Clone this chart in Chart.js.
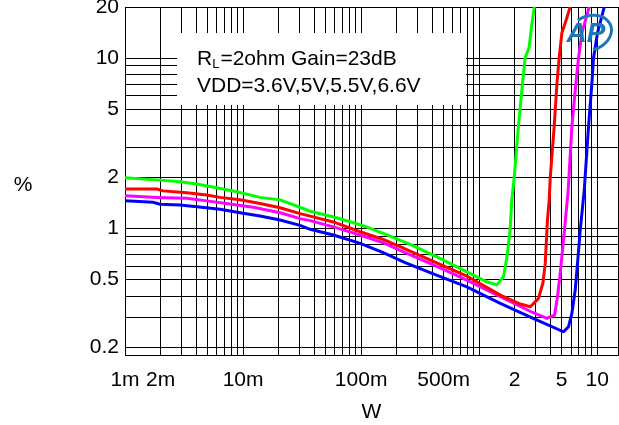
<!DOCTYPE html>
<html>
<head>
<meta charset="utf-8">
<script src="https://cdn.jsdelivr.net/npm/chart.js@4.4.1/dist/chart.umd.min.js"></script>
<style>
  html, body { margin: 0; padding: 0; background: #fff; overflow: hidden; }
  #wrap { position: relative; width: 619px; height: 425px; }
</style>
</head>
<body>
<div id="wrap"><canvas id="thd"></canvas></div>
<script>
// THD+N (%) versus output power (W), RL = 2 ohm, gain 23 dB, one curve per supply voltage
const seriesNames = ['VDD=3.6V', 'VDD=5V', 'VDD=5.5V', 'VDD=6.6V'];
const seriesColors = ['#00ff00', '#ff0000', '#ff00ff', '#0000ff'];

const power36 = [0.001, 0.00198, 0.00292, 0.00405, 0.00599, 0.00885, 0.0139, 0.0206, 0.0304, 0.037,
  0.0579, 0.0982, 0.154, 0.26, 0.438, 0.787, 1.16, 1.41, 1.61, 1.72, 1.83, 1.89, 1.98, 2.15, 2.33,
  2.45, 2.64, 2.72, 2.78, 2.93, 3.0];
const thd36 = [1.98, 1.92, 1.88, 1.82, 1.73, 1.64, 1.52, 1.47, 1.33, 1.26,
  1.17, 1.05, 0.935, 0.805, 0.68, 0.555, 0.485, 0.465, 0.52, 0.68, 0.98, 1.47, 1.98, 3.96, 7.15,
  10.0, 11.5, 13.5, 15.5, 20, 22];

const power50 = [0.001, 0.00186, 0.0021, 0.00334, 0.00492, 0.00638, 0.00944, 0.0139, 0.0206, 0.0304,
  0.037, 0.0582, 0.0982, 0.154, 0.214, 0.26, 0.424, 0.787, 1.51, 2.23, 2.71, 3.18, 3.47, 3.63, 3.75,
  3.79, 3.92, 4.0, 4.32, 4.56, 4.76, 5.02, 5.46, 5.9, 6.0];
const thd50 = [1.70, 1.70, 1.66, 1.62, 1.57, 1.52, 1.47, 1.40, 1.32, 1.22,
  1.18, 1.09, 0.955, 0.862, 0.78, 0.735, 0.633, 0.524, 0.405, 0.359, 0.346, 0.387, 0.477, 0.622, 0.977,
  1.12, 1.47, 1.98, 3.96, 7.15, 10.0, 14.1, 16.8, 20, 21];

const power55 = [0.001, 0.00186, 0.00334, 0.00492, 0.00776, 0.0122, 0.0206, 0.0304, 0.037, 0.0582,
  0.0982, 0.154, 0.236, 0.424, 0.787, 1.51, 2.87, 3.75, 3.87, 4.35, 4.61, 4.86, 5.08, 5.28, 5.68,
  6.1, 6.6, 6.94, 7.42, 8.56, 8.8];
const thd55 = [1.555, 1.52, 1.50, 1.45, 1.39, 1.33, 1.235, 1.14, 1.11, 1.02,
  0.913, 0.823, 0.719, 0.604, 0.496, 0.396, 0.319, 0.2955, 0.2995, 0.309, 0.396, 0.544, 0.745, 0.977, 1.68,
  3.96, 7.15, 10.0, 14.1, 20, 22];

const power66 = [0.001, 0.00173, 0.00198, 0.00292, 0.00405, 0.00638, 0.00944, 0.0139, 0.0206, 0.0304,
  0.037, 0.0582, 0.0982, 0.154, 0.236, 0.424, 0.787, 1.51, 2.87, 5.18, 5.71, 6.1, 6.51, 6.81, 7.18,
  7.78, 8.44, 9.02, 9.3, 10.06, 11.47, 11.8];
const thd66 = [1.453, 1.422, 1.384, 1.371, 1.340, 1.294, 1.235, 1.181, 1.119, 1.041,
  0.987, 0.913, 0.816, 0.719, 0.629, 0.535, 0.453, 0.362, 0.2955, 0.2465, 0.2637, 0.316, 0.434, 0.622, 0.977,
  1.7, 3.96, 7.15, 10.0, 14.1, 20, 22];

// Axis ranges and labelled ticks
const xRange = [0.001, 15];
const yRange = [0.18, 20];
const xTickValues = [0.001, 0.002, 0.01, 0.1, 0.5, 2, 5, 10];
const xTickLabels = ['1m', '2m', '10m', '100m', '500m', '2', '5', '10'];
const yTickValues = [0.2, 0.5, 1, 2, 5, 10, 20];
const yTickLabels = ['0.2', '0.5', '1', '2', '5', '10', '20'];
const xTitle = 'W';
const yTitle = '%';
const noteLines = ['=2ohm Gain=23dB', 'VDD=3.6V,5V,5.5V,6.6V'];
const logoText = 'AP';

const FONT = "'Liberation Sans', Arial, sans-serif";

// 1-2-3...9 grid per decade, plus the range edges
function logGrid(min, max) {
  const vals = [];
  for (let e = Math.floor(Math.log10(min)); e <= Math.ceil(Math.log10(max)); e++) {
    for (let m = 1; m <= 9; m++) {
      const v = +(m * Math.pow(10, e)).toPrecision(6);
      if (v >= min * 0.9999 && v <= max * 1.0001) vals.push(v);
    }
  }
  if (!vals.includes(min)) vals.unshift(min);
  if (!vals.includes(max)) vals.push(max);
  return vals.map(v => ({ value: v }));
}

function labelFor(values, labels, v) {
  const i = values.findIndex(t => Math.abs(t - v) / t < 1e-6);
  return i >= 0 ? labels[i] : '';
}

function pairs(xs, ys) { return xs.map((x, i) => ({ x, y: ys[i] })); }

// Let the plot frame run right up to the canvas edges; labels may overhang
function noOverhang(s) {
  s.paddingLeft = 0; s.paddingRight = 0; s.paddingTop = 0; s.paddingBottom = 0;
}

const seriesData = [pairs(power36, thd36), pairs(power50, thd50), pairs(power55, thd55), pairs(power66, thd66)];

// White note box with the test conditions, the "%" unit and the analyzer badge
const decorations = {
  id: 'decorations',
  beforeDatasetsDraw(chart) {
    const { ctx, chartArea: a } = chart;
    ctx.save();
    ctx.fillStyle = '#ffffff';
    ctx.fillRect(a.left + 52, a.top + 26, 289, 72);
    ctx.fillStyle = '#000';
    ctx.textBaseline = 'alphabetic';
    ctx.textAlign = 'left';
    const x0 = a.left + 72;
    ctx.font = '21px ' + FONT;
    ctx.fillText('R', x0, a.top + 58);
    let x = x0 + ctx.measureText('R').width;
    ctx.font = '13px ' + FONT;
    ctx.fillText('L', x, a.top + 61);
    x += ctx.measureText('L').width + 1;
    ctx.font = '21px ' + FONT;
    ctx.fillText(noteLines[0], x, a.top + 58);
    ctx.fillText(noteLines[1], x0, a.top + 85);
    ctx.restore();
  },
  afterDraw(chart) {
    const { ctx, chartArea: a } = chart;
    ctx.save();
    ctx.fillStyle = '#000';
    ctx.font = '21px ' + FONT;
    ctx.textAlign = 'center';
    ctx.textBaseline = 'middle';
    ctx.fillText(yTitle, 23, 185);
    // badge
    const cx = a.right - 30, cy = a.top + 26;
    ctx.strokeStyle = '#1b78b8';
    ctx.fillStyle = '#1b78b8';
    ctx.lineWidth = 3;
    ctx.beginPath();
    ctx.ellipse(cx + 2, cy, 22, 17, -0.35, -1.9, 1.7);
    ctx.stroke();
    ctx.font = 'italic bold 28px ' + FONT;
    ctx.fillText(logoText, cx - 2, cy + 1);
    ctx.restore();
  }
};

new Chart(document.getElementById('thd'), {
  type: 'line',
  data: {
    datasets: seriesData.map((d, i) => ({
      label: seriesNames[i],
      data: d,
      borderColor: seriesColors[i],
      backgroundColor: seriesColors[i],
      borderWidth: 3,
      pointRadius: 0,
      tension: 0,
      fill: false
    }))
  },
  options: {
    responsive: true,
    maintainAspectRatio: false,
    animation: false,
    layout: { padding: { top: 7, right: 1, left: 0, bottom: 0 } },
    plugins: { legend: { display: false }, tooltip: { enabled: false } },
    scales: {
      x: {
        type: 'logarithmic',
        min: xRange[0],
        max: xRange[1],
        afterBuildTicks: s => { s.ticks = logGrid(xRange[0], xRange[1]); },
        afterFit: s => { s.height = 70; noOverhang(s); },
        ticks: {
          autoSkip: false,
          maxRotation: 0,
          padding: 13,
          color: '#000',
          font: { family: FONT, size: 21 },
          callback: v => labelFor(xTickValues, xTickLabels, v)
        },
        grid: { color: '#000', lineWidth: 1, drawTicks: false },
        border: { color: '#000', width: 1 },
        title: { display: true, text: xTitle, color: '#000', font: { family: FONT, size: 21 }, padding: { top: 0, bottom: 0 } }
      },
      y: {
        type: 'logarithmic',
        min: yRange[0],
        max: yRange[1],
        afterBuildTicks: s => { s.ticks = logGrid(yRange[0], yRange[1]); },
        afterFit: s => { s.width = 125; noOverhang(s); },
        ticks: {
          autoSkip: false,
          padding: 6,
          color: '#000',
          font: { family: FONT, size: 21 },
          callback: v => labelFor(yTickValues, yTickLabels, v)
        },
        grid: { color: '#000', lineWidth: 1, drawTicks: false },
        border: { color: '#000', width: 1 }
      }
    }
  },
  plugins: [decorations]
});
</script>
</body>
</html>
